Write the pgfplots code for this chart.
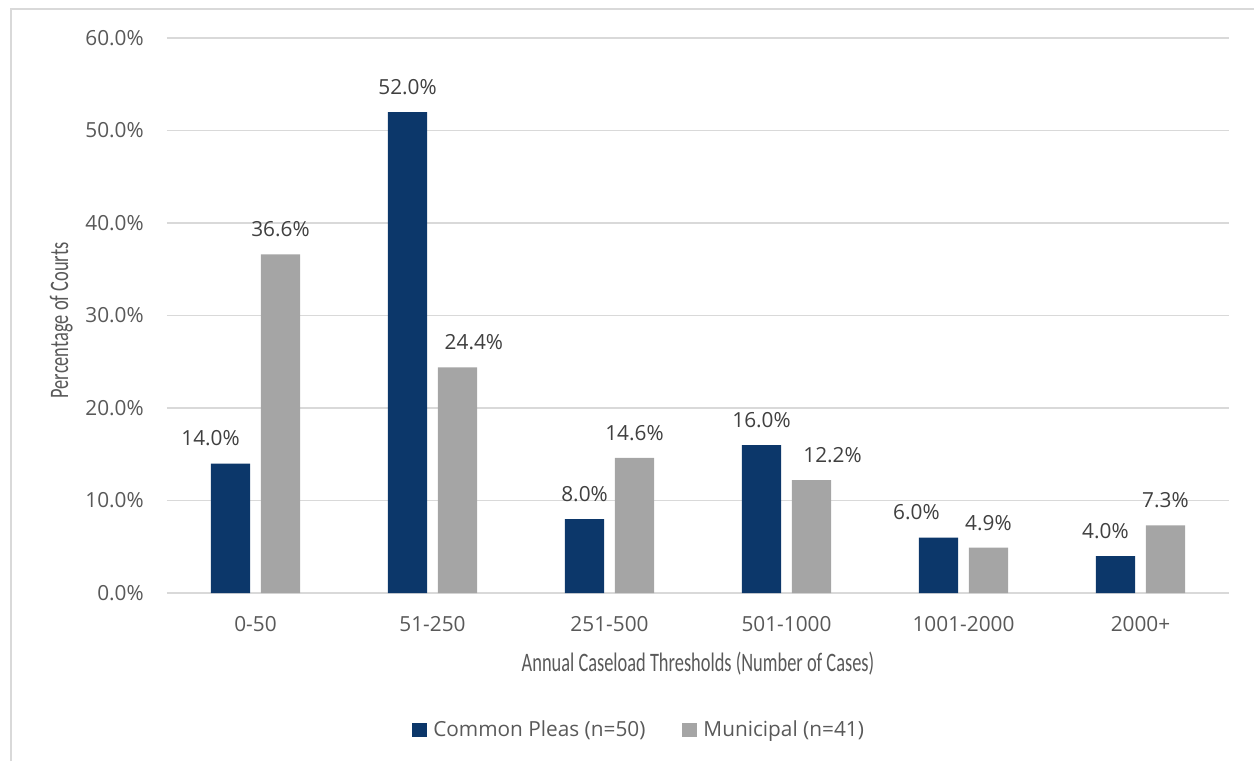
\documentclass[border=0pt]{standalone}
\usepackage{pgfplots}
\pgfplotsset{compat=1.18}
\usepackage{pgfplotstable}
\usepackage{fontspec}
\setmainfont{Open Sans}
\newfontfamily\titlefont[FakeStretch=0.69]{Carlito}
\definecolor{cpblue}{HTML}{0C376A}
\definecolor{mgray}{HTML}{A5A5A5}
\definecolor{gridgray}{HTML}{D9D9D9}
\definecolor{ticktext}{HTML}{595959}
\definecolor{labeltext}{HTML}{404040}

% bar values
\pgfplotstableread{
x y
0 14.0
1 52.0
2 8.0
3 16.0
4 6.0
5 4.0
}\commonpleas
\pgfplotstableread{
x y
0 36.6
1 24.4
2 14.6
3 12.2
4 4.9
5 7.3
}\municipal
% data-label positions (category + horizontal offset of the label)
\pgfplotstableread{
x y
-0.254 14.0
0.859 52.0
1.859 8.0
2.859 16.0
3.734 6.0
4.802 4.0
}\commonpleaslabels
\pgfplotstableread{
x y
0.141 36.6
1.234 24.4
2.141 14.6
3.260 12.2
4.141 4.9
5.141 7.3
}\municipallabels

\begin{document}
\begin{tikzpicture}
\useasboundingbox (-125.25pt,-126pt) rectangle (815.25pt,444.75pt);
\draw[gridgray, line width=1pt] (-117pt,-126pt) -- (-117pt,438pt) -- (815.25pt,438pt);
\begin{axis}[
  at={(0pt,0pt)}, anchor=south west,
  scale only axis,
  width=796.5pt, height=416.25pt,
  xmin=-0.5, xmax=5.5,
  ymin=0, ymax=60,
  ytick={0,10,...,60},
  xtick={0,...,5},
  xticklabels={0-50,51-250,251-500,501-1000,1001-2000,2000+},
  /pgf/number format/assume math mode=true,
  yticklabel={\pgfmathprintnumber[fixed,fixed zerofill,precision=1]{\tick}\%},
  axis line style={draw=none},
  axis x line*=bottom,
  axis y line*=left,
  major tick length=0pt,
  ymajorgrids,
  grid style={gridgray, line width=0.9pt},
  extra y ticks={0},
  extra y tick style={grid style={gridgray, line width=1.1pt}, yticklabels={}},
  tick label style={font=\fontsize{15.6}{18}\selectfont, text=ticktext},
  yticklabel style={anchor=east, inner sep=0pt, xshift=-17.25pt},
  xticklabel style={anchor=north, inner sep=0pt, yshift=-17.25pt},
  xlabel={Annual Caseload Thresholds (Number of Cases)},
  ylabel={Percentage of Courts},
  label style={font=\titlefont\fontsize{20}{24}\selectfont, text=ticktext},
  xlabel style={at={(axis description cs:0.5,0)}, anchor=base, yshift=-58.5pt, inner sep=0pt},
  ylabel style={at={(axis description cs:-0.0932,0.491)}, rotate=0, anchor=base, inner sep=0pt},
  legend columns=2,
  legend cell align=left,
  legend image code/.code={\fill[#1] (0pt,-5.6pt) rectangle (11.25pt,5.6pt);},
  legend style={draw=none, fill=none, inner sep=0pt,
    at={(axis description cs:0.2307,-0.2468)}, anchor=west,
    font=\fontsize{15.6}{18}\selectfont, text=ticktext,
    nodes={inner sep=0pt},
    /tikz/every odd column/.append style={column sep=4.5pt},
    /tikz/every even column/.append style={column sep=27.75pt}},
  clip=false,
  datalabel/.style={draw=none, mark=none, forget plot,
    nodes near coords={\pgfmathprintnumber[fixed,fixed zerofill,precision=1]{\pgfplotspointmeta}\%},
    nodes near coords style={font=\fontsize{15.6}{18}\selectfont, text=labeltext, anchor=center, inner sep=0pt, yshift=18.75pt}},
]
\addplot[ybar, bar width=29.5pt, bar shift=-18.75pt, fill=cpblue, draw=none]
  table[x=x, y=y] {\commonpleas};
\addlegendentry{Common Pleas (n=50)}
\addplot[ybar, bar width=29.5pt, bar shift=18.75pt, fill=mgray, draw=none]
  table[x=x, y=y] {\municipal};
\addlegendentry{Municipal (n=41)}
\addplot[datalabel] table[x=x, y=y] {\commonpleaslabels};
\addplot[datalabel] table[x=x, y=y] {\municipallabels};
\end{axis}
\end{tikzpicture}
\end{document}
